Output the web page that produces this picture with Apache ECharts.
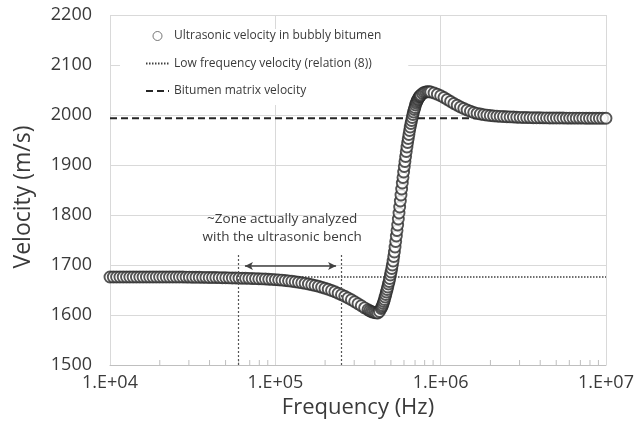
<!DOCTYPE html>
<html>
<head>
<meta charset="utf-8">
<script src="https://cdn.jsdelivr.net/npm/echarts@6/dist/echarts.min.js"></script>
<style>
html,body{margin:0;padding:0;background:#fff;}
#chart{width:638px;height:424px;}
</style>
</head>
<body>
<div id="chart"></div>
<script>
// ---- data ----
const seriesNames = ['Ultrasonic velocity in bubbly bitumen', 'Low frequency velocity (relation (8))', 'Bitumen matrix velocity'];

const freqHz = [
  1.000e4,1.047e4,1.096e4,1.148e4,1.202e4,1.259e4,1.318e4,1.380e4,1.445e4,1.514e4,
  1.585e4,1.660e4,1.738e4,1.820e4,1.905e4,1.995e4,2.089e4,2.188e4,2.291e4,2.399e4,
  2.512e4,2.630e4,2.754e4,2.884e4,3.020e4,3.162e4,3.311e4,3.467e4,3.631e4,3.802e4,
  3.981e4,4.169e4,4.365e4,4.571e4,4.786e4,5.012e4,5.248e4,5.495e4,5.754e4,6.026e4,
  6.310e4,6.607e4,6.918e4,7.244e4,7.586e4,7.943e4,8.318e4,8.710e4,9.120e4,9.550e4,
  1.000e5,1.047e5,1.096e5,1.148e5,1.202e5,1.259e5,1.318e5,1.380e5,1.445e5,1.514e5,
  1.585e5,1.660e5,1.738e5,1.820e5,1.905e5,1.995e5,2.089e5,2.188e5,2.291e5,2.399e5,
  2.512e5,2.630e5,2.754e5,2.884e5,3.020e5,3.162e5,3.311e5,3.467e5,
  3.631e5,3.715e5,3.802e5,3.890e5,3.981e5,4.074e5,4.169e5,4.266e5,
  4.365e5,4.406e5,4.446e5,4.487e5,4.529e5,4.571e5,4.613e5,4.656e5,4.699e5,4.742e5,
  4.786e5,4.831e5,4.875e5,4.920e5,4.966e5,5.012e5,5.058e5,5.105e5,5.152e5,5.200e5,
  5.248e5,5.297e5,5.346e5,5.395e5,5.445e5,5.495e5,5.546e5,5.598e5,5.649e5,5.702e5,
  5.754e5,5.808e5,5.861e5,5.916e5,5.970e5,6.026e5,6.081e5,6.138e5,6.194e5,6.252e5,
  6.310e5,6.368e5,6.427e5,6.486e5,6.546e5,6.607e5,6.668e5,6.730e5,6.792e5,6.855e5,
  6.918e5,6.982e5,7.047e5,7.112e5,7.178e5,7.244e5,7.311e5,7.379e5,7.447e5,7.516e5,
  7.586e5,
  7.762e5,7.943e5,8.128e5,8.318e5,8.511e5,8.710e5,
  9.120e5,9.550e5,
  1.000e6,1.047e6,1.096e6,1.148e6,1.202e6,1.259e6,1.318e6,1.380e6,1.445e6,1.514e6,
  1.585e6,1.660e6,1.738e6,1.820e6,1.905e6,1.995e6,2.089e6,2.188e6,2.291e6,2.399e6,
  2.512e6,2.630e6,2.754e6,2.884e6,3.020e6,3.162e6,3.311e6,3.467e6,3.631e6,3.802e6,
  3.981e6,4.169e6,4.365e6,4.571e6,4.786e6,5.012e6,5.248e6,5.495e6,5.754e6,6.026e6,
  6.310e6,6.607e6,6.918e6,7.244e6,7.586e6,7.943e6,8.318e6,8.710e6,9.120e6,9.550e6,
  1.000e7
];

const velocity = [
  1676,1676,1676,1676,1676,1676,1676,1676,1676,1676,
  1676,1676,1676,1676,1676,1676,1676,1676,1676,1676,
  1676,1676,1675.9,1675.8,1675.7,1675.6,1675.5,1675.4,1675.3,1675.2,
  1675.1,1675,1674.9,1674.7,1674.6,1674.4,1674.2,1674,1673.9,1673.8,
  1673.6,1673.4,1673.2,1673,1672.8,1672.5,1672.2,1671.9,1671.6,1671.2,
  1670.8,1670.3,1669.7,1669,1668.3,1667.5,1666.6,1665.6,1664.5,1663.3,
  1662,1660.6,1659.1,1657.4,1655.6,1653.6,1651.4,1649,1646.4,1643.6,
  1640.6,1637.4,1634,1630.4,1626.6,1622.6,1618.5,1614.3,
  1610.5,1608.5,1607,1605.8,1605,1604.3,1604,1607,
  1613,1616,1619,1623,1627,1631,1636,1641,1646,1651,
  1656,1662,1667,1673,1680,1686,1693,1700,1708,1717,
  1726,1736,1747,1758,1769,1780,1792,1804,1816,1828,
  1840,1852,1864,1875,1886,1897,1907,1917,1927,1936,
  1945,1953,1961,1969,1976,1983,1989,1995,2001,2006,
  2011,2015,2020,2024,2027,2030,2032,2035,2037,2038,
  2040,
  2043,2045,2046,2046.5,2046.5,2046,
  2044,2041.5,
  2038.5,2035,2031,2027,2023,2019.5,2016,2013,2010,2007.5,
  2005,2003.3,2002,2000.8,1999.8,1999,1998.3,1997.8,1997.3,1996.9,
  1996.5,1996.2,1995.9,1995.6,1995.3,1995.1,1994.9,1994.7,1994.6,1994.5,
  1994.4,1994.3,1994.2,1994.1,1994,1994,1993.9,1993.9,1993.8,1993.8,
  1993.8,1993.7,1993.7,1993.7,1993.6,1993.6,1993.6,1993.6,1993.5,1993.5,
  1993.5
];

const refLineFreqs = [1e4, 1e7];
const lowFreqVelocity = 1676;
const matrixVelocity = 1993.5;

const zoneFreqs = [6.0e4, 2.5e5];
const zoneTopVelocity = 1722;
const arrowFreqs = [6.55e4, 2.33e5];
const arrowVelocity = 1698;
const zoneLabelPos = [1.1e5, 1773];
const zoneLabel = '~Zone actually analyzed\nwith the ultrasonic bench';

const xTickLabels = ['1.E+04', '1.E+05', '1.E+06', '1.E+07'];
const minorTickFreqs = [
  2e4,3e4,4e4,5e4,6e4,7e4,8e4,9e4,
  2e5,3e5,4e5,5e5,6e5,7e5,8e5,9e5,
  2e6,3e6,4e6,5e6,6e6,7e6,8e6,9e6
];

// ---- chart ----
const FONT = 'Open Sans';
const TXT = '#3a3a3a';
const chart = echarts.init(document.getElementById('chart'), null, {renderer: 'canvas'});

const option = {
  animation: false,
  backgroundColor: '#fff',
  textStyle: {fontFamily: FONT},
  grid: {left: 110, right: 32, top: 15, bottom: 59, containLabel: false, outerBoundsMode: 'none'},
  legend: {
    orient: 'vertical',
    left: 120, top: 29,
    padding: [1, 27, 8, 25],
    backgroundColor: '#fff',
    itemWidth: 23, itemHeight: 9, itemGap: 15.5,
    textStyle: {fontFamily: FONT, fontSize: 12, color: TXT},
    selectedMode: false,
    data: [
      {name: seriesNames[0], icon: 'circle', itemStyle: {color: '#fff', borderColor: '#555', borderWidth: 1}},
      {name: seriesNames[1], itemStyle: {opacity: 0}},
      {name: seriesNames[2], itemStyle: {opacity: 0}}
    ]
  },
  xAxis: {
    type: 'log', logBase: 10, min: 1e4, max: 1e7, splitNumber: 3,
    name: 'Frequency (Hz)', nameLocation: 'middle', nameGap: 29,
    nameTextStyle: {fontFamily: FONT, fontSize: 22, color: TXT},
    axisLine: {show: true, lineStyle: {color: '#bfbfbf', width: 1}},
    axisTick: {show: false},
    axisLabel: {
      fontFamily: FONT, fontSize: 18, color: TXT, margin: 9,
      formatter: (v, i) => xTickLabels[i]
    },
    splitLine: {show: true, lineStyle: {color: '#d9d9d9', width: 1}}
  },
  yAxis: {
    type: 'value', min: 1500, max: 2200, interval: 100,
    name: 'Velocity (m/s)', nameLocation: 'middle', nameGap: 75, nameRotate: 90,
    nameTextStyle: {fontFamily: FONT, fontSize: 23, color: TXT, padding: [0, 14, 0, 0]},
    axisLine: {show: false},
    axisTick: {show: false},
    axisLabel: {fontFamily: FONT, fontSize: 18, color: TXT, margin: 18, formatter: v => String(v)},
    splitLine: {show: true, lineStyle: {color: '#d9d9d9', width: 1}}
  },
  series: [
    {
      name: 'minorTicks', type: 'custom', silent: true, z: 1,
      data: minorTickFreqs.map(f => [f, 1500]),
      renderItem: (params, api) => {
        const p = api.coord([api.value(0), api.value(1)]);
        return {type: 'line', shape: {x1: p[0], y1: p[1], x2: p[0], y2: p[1] - 5},
                style: {stroke: '#bfbfbf', lineWidth: 1}};
      }
    },
    {
      name: seriesNames[1], type: 'line', symbol: 'none', silent: true, z: 2,
      data: refLineFreqs.map(f => [f, lowFreqVelocity]),
      itemStyle: {color: '#404040'},
      lineStyle: {color: '#404040', width: 1.5, type: [1.5, 1.5]},
      markLine: {
        silent: true, symbol: ['none', 'none'], label: {show: false},
        lineStyle: {color: '#555', width: 1.2, type: [2, 2]},
        emphasis: {disabled: true},
        data: [
          [{coord: [zoneFreqs[0], 1500]}, {coord: [zoneFreqs[0], zoneTopVelocity]}],
          [{coord: [zoneFreqs[1], 1500]}, {coord: [zoneFreqs[1], zoneTopVelocity]}],
          [{coord: [arrowFreqs[0], arrowVelocity], symbol: 'arrow', symbolSize: [6, 8],
            lineStyle: {color: '#404040', width: 1.5, type: 'solid'}},
           {coord: [arrowFreqs[1], arrowVelocity], symbol: 'arrow', symbolSize: [6, 8]}]
        ]
      },
      markPoint: {
        silent: true,
        data: [{
          coord: zoneLabelPos, symbol: 'rect', symbolSize: 1,
          itemStyle: {color: 'rgba(0,0,0,0)'},
          label: {show: true, position: 'inside', formatter: zoneLabel,
                  fontFamily: FONT, fontSize: 13.5, lineHeight: 18, color: TXT}
        }]
      }
    },
    {
      name: seriesNames[2], type: 'line', symbol: 'none', silent: true, z: 2,
      data: refLineFreqs.map(f => [f, matrixVelocity]),
      itemStyle: {color: '#262626'},
      lineStyle: {color: '#262626', width: 2, type: [7, 4]}
    },
    {
      name: seriesNames[0], type: 'scatter', silent: true, z: 3,
      symbol: 'circle', symbolSize: 11,
      data: freqHz.map((f, i) => [f, velocity[i]]),
      itemStyle: {color: '#fff', borderColor: '#2a2a2a', borderWidth: 1.9}
    }
  ]
};
chart.setOption(option);
</script>
</body>
</html>
